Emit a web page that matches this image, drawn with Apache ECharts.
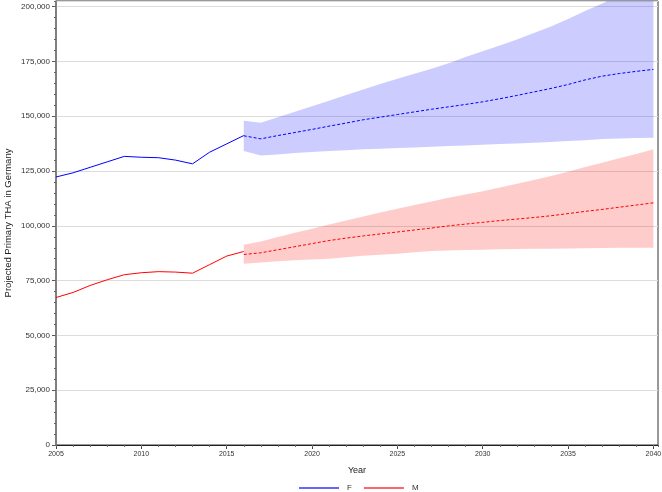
<!DOCTYPE html>
<html>
<head>
<meta charset="utf-8">
<script src="https://cdn.jsdelivr.net/npm/echarts@6/dist/echarts.min.js"></script>
<style>html,body{margin:0;padding:0;background:#fff}#c{width:662px;height:492px}</style>
</head>
<body>
<div id="c"></div>
<script>
// Observed years
const histYears = [2005,2006,2007,2008,2009,2010,2011,2012,2013,2014,2015,2016];
const histF = [122300,124200,126700,129200,131700,131300,131100,130000,128300,133600,137400,141200];
const histM = [67300,69600,72800,75400,77700,78600,79100,78900,78400,82300,86200,88300];

// Projection years
const projYears = [2016,2017,2018,2019,2020,2021,2022,2023,2024,2025,2026,2027,2028,2029,2030,2031,2032,2033,2034,2035,2036,2037,2038,2039,2040];
const projF = [141100,139700,141200,142600,144000,145500,146900,148400,149600,150800,152000,153200,154300,155400,156600,158000,159500,161100,162700,164500,166600,168300,169500,170500,171400];
const upperF = [148000,147100,149600,152100,154600,157100,159700,162200,164700,167100,169400,171700,174200,177000,179700,182300,185000,188000,191000,194400,198000,201500,205100,208700,212300];
const lowerF = [134100,132100,132600,133200,133700,134100,134500,134900,135200,135500,135800,136100,136400,136700,137000,137300,137600,137900,138300,138700,139100,139600,139900,140100,140200];
const projM = [86950,87700,89100,90500,91900,93300,94400,95400,96300,97200,98100,99000,100000,100800,101600,102400,103100,103800,104600,105600,106600,107500,108500,109500,110500];
const upperM = [91400,92900,94900,96800,98700,100600,102400,104300,106100,107800,109500,111100,112800,114300,115800,117500,119200,120900,122700,124700,126800,128800,130800,132800,134900];
const lowerM = [82700,83300,83800,84300,84700,85000,85700,86300,86800,87300,87900,88500,88800,89000,89100,89300,89400,89500,89600,89700,89800,89900,89950,90000,90000];

const yTicks = [0,25000,50000,75000,100000,125000,150000,175000,200000];

const FONT = '"Liberation Sans", Arial, sans-serif';
const pairs = (xs, ys) => xs.map((x, i) => [x, ys[i]]);
const fmt = v => String(Math.round(v)).replace(/\B(?=(\d{3})+(?!\d))/g, ',');

function band(name, lo, hi, color) {
  return {
    name: name + '_band', type: 'custom', silent: true, clip: true, z: 1,
    data: [[projYears[0], lo[0]]],
    renderItem: function (params, api) {
      const pts = [];
      for (let i = 0; i < projYears.length; i++) pts.push(api.coord([projYears[i], hi[i]]));
      for (let i = projYears.length - 1; i >= 0; i--) pts.push(api.coord([projYears[i], lo[i]]));
      return { type: 'polygon', shape: { points: pts }, style: { fill: color } };
    }
  };
}

const chart = echarts.init(document.getElementById('c'), null, { renderer: 'canvas' });
chart.setOption({
  animation: false,
  backgroundColor: '#fff',
  textStyle: { fontFamily: FONT },
  grid: { left: 56, right: 4, top: 1, bottom: 47, show: true, borderColor: '#333', borderWidth: 1,
          backgroundColor: 'transparent', containLabel: false, outerBoundsMode: 'none' },
  legend: {
    data: ['F', 'M'], left: 299, top: 484, itemWidth: 40, itemHeight: 2, itemGap: 12, icon: 'rect',
    padding: 0, textStyle: { fontFamily: FONT, fontSize: 8, color: '#333', padding: [0, 0, 0, 3] }, selectedMode: false
  },
  xAxis: [
    { type: 'value', min: 2005, max: 2040.27, interval: 5, position: 'bottom',
      name: 'Year', nameLocation: 'middle', nameGap: 21, nameMoveOverlap: false,
      nameTextStyle: { fontFamily: FONT, fontSize: 9, color: '#222' },
      axisLine: { show: true, onZero: false, lineStyle: { color: '#222', width: 1 } },
      axisTick: { show: true, length: 4, lineStyle: { color: '#444' } },
      axisLabel: { showMaxLabel: false, fontSize: 7, color: '#333', margin: 6, formatter: v => String(v) },
      splitLine: { show: false } },
    { type: 'value', min: 2005, max: 2040.27, interval: 1, position: 'bottom',
      axisLine: { show: false, onZero: false },
      axisTick: { show: true, length: 2, lineStyle: { color: '#666' } },
      axisLabel: { show: false }, splitLine: { show: false } }
  ],
  yAxis: [
    { type: 'value', min: 0, max: 202600, interval: 25000, position: 'left',
      name: 'Projected Primary THA in Germany', nameLocation: 'middle', nameGap: 43, nameMoveOverlap: false,
      nameTextStyle: { fontFamily: FONT, fontSize: 9.5, color: '#222' },
      axisLine: { show: true, onZero: false, lineStyle: { color: '#777', width: 1.5 } },
      axisTick: { show: true, length: 4, lineStyle: { color: '#555' } },
      axisLabel: { showMaxLabel: false, fontSize: 8, color: '#333', margin: 6,
        formatter: v => (yTicks.indexOf(v) >= 0 ? fmt(v) : '') },
      splitLine: { show: true, lineStyle: { color: '#dcdcdc', width: 1 } } },
    { type: 'value', min: 0, max: 202600, interval: 5000, position: 'left',
      axisLine: { show: false, onZero: false },
      axisTick: { show: true, length: 2, lineStyle: { color: '#666' } },
      axisLabel: { show: false }, splitLine: { show: false } }
  ],
  series: [
    band('F', lowerF, upperF, 'rgba(0,0,255,0.2)'),
    band('M', lowerM, upperM, 'rgba(255,0,0,0.2)'),
    { name: 'F', type: 'line', symbol: 'none', data: pairs(histYears, histF),
      lineStyle: { color: '#0000ff', width: 1 }, itemStyle: { color: '#6666ff' }, z: 3 },
    { name: 'F', type: 'line', symbol: 'none', data: pairs(projYears, projF),
      lineStyle: { color: '#0000ff', width: 1, type: [3, 2] }, itemStyle: { color: '#6666ff' }, z: 3 },
    { name: 'M', type: 'line', symbol: 'none', data: pairs(histYears, histM),
      lineStyle: { color: '#ff0000', width: 1 }, itemStyle: { color: '#ff6666' }, z: 3 },
    { name: 'M', type: 'line', symbol: 'none', data: pairs(projYears, projM),
      lineStyle: { color: '#ff0000', width: 1, type: [3, 2] }, itemStyle: { color: '#ff6666' }, z: 3 }
  ]
});
</script>
</body>
</html>
